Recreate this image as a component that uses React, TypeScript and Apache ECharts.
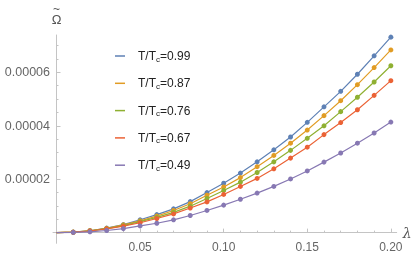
import React, { useEffect, useRef } from "react";
import * as echarts from "echarts";

// λ values (first point at origin drawn without marker)
const lambdas = [0, 0.01, 0.02, 0.03, 0.04, 0.05, 0.06, 0.07, 0.08, 0.09, 0.1, 0.11, 0.12, 0.13, 0.14, 0.15, 0.16, 0.17, 0.18, 0.19, 0.2];

// Ω̃ values in units of 1e-5
const SCALE = 1e-5;
const seriesNames = ["0.99", "0.87", "0.76", "0.67", "0.49"];
const omega099 = [0, 0.02, 0.07, 0.17, 0.3, 0.48, 0.675, 0.89, 1.16, 1.5, 1.85, 2.23, 2.65, 3.1, 3.58, 4.13, 4.71, 5.29, 5.93, 6.62, 7.32];
const omega087 = [0, 0.02, 0.07, 0.16, 0.29, 0.44, 0.62, 0.83, 1.08, 1.4, 1.71, 2.06, 2.47, 2.89, 3.35, 3.84, 4.38, 4.94, 5.54, 6.18, 6.84];
const omega076 = [0, 0.015, 0.065, 0.15, 0.265, 0.41, 0.57, 0.76, 0.99, 1.28, 1.58, 1.89, 2.25, 2.65, 3.08, 3.53, 4.0, 4.53, 5.07, 5.64, 6.25];
const omega067 = [0, 0.015, 0.06, 0.14, 0.24, 0.37, 0.53, 0.7, 0.92, 1.15, 1.43, 1.73, 2.03, 2.39, 2.79, 3.2, 3.67, 4.12, 4.6, 5.14, 5.69];
const omega049 = [0, 0.01, 0.03, 0.08, 0.15, 0.25, 0.35, 0.48, 0.64, 0.83, 1.03, 1.25, 1.48, 1.73, 2.01, 2.31, 2.64, 2.98, 3.35, 3.73, 4.14];
const allValues = [omega099, omega087, omega076, omega067, omega049];

const xTickLabels = [0.05, 0.1, 0.15, 0.2];
const xMinorTicks = [0.01, 0.02, 0.03, 0.04, 0.06, 0.07, 0.08, 0.09, 0.11, 0.12, 0.13, 0.14, 0.16, 0.17, 0.18, 0.19];
const yTickLabels = [0.00002, 0.00004, 0.00006];
const yMinorTicks = [0.000005, 0.00001, 0.000015, 0.000025, 0.00003, 0.000035, 0.000045, 0.00005, 0.000055, 0.000065, 0.00007];

const colors = ["#5E81B5", "#E19C24", "#8FB032", "#EB6235", "#8778B3"];

const X_MIN = -0.0021;
const X_MAX = 0.2035;
const Y_MIN = -0.000004;
const Y_MAX = 0.000074;

export default function App() {
  const ref = useRef<HTMLDivElement>(null);
  useEffect(() => {
    if (!ref.current) return;
    const chart = echarts.init(ref.current, null, { renderer: "svg" });
    const axisColor = "#c4c4c4";
    const labelColor = "#666666";
    const font = "'Liberation Sans', Arial, sans-serif";

    const series: any[] = allValues.map((vals, si) => ({
      type: "line",
      name: seriesNames[si],
      xAxisIndex: 0,
      yAxisIndex: 0,
      data: lambdas.map((l, i) =>
        i === 0 ? { value: [l, vals[i] * SCALE], symbol: "none" } : [l, vals[i] * SCALE]
      ),
      symbol: "circle",
      symbolSize: 5,
      showSymbol: true,
      lineStyle: { width: 1.2, color: colors[si] },
      itemStyle: { color: colors[si] },
      color: colors[si],
      z: 2 + si,
    }));

    chart.setOption({
      animation: false,
      textStyle: { fontFamily: font },
      grid: {
        left: 53,
        right: 18.3,
        top: 35,
        bottom: 9.7,
        containLabel: false,
        outerBoundsMode: "none",
      },
      legend: {
        orient: "vertical",
        left: 115,
        top: 50,
        padding: 0,
        itemGap: 14.3,
        itemWidth: 10,
        itemHeight: 1.5,
        icon: "rect",
        data: seriesNames,
        formatter: (name: string) => `{s|}{a|T/T}{b|c}{a|=${name}}`,
        textStyle: {
          rich: {
            s: { width: 8 },
            a: { fontSize: 12, lineHeight: 14, color: "#222", fontFamily: font },
            b: { fontSize: 8, lineHeight: 8, verticalAlign: "bottom", color: "#222", fontFamily: font },
          },
        },
      },
      xAxis: [
        {
          type: "value",
          min: X_MIN,
          max: X_MAX,
          name: "λ",
          nameLocation: "end",
          nameGap: 6,
          nameTextStyle: { fontSize: 14, fontStyle: "italic", color: "#555", fontFamily: "'DejaVu Serif', serif", verticalAlign: "middle", padding: [4, 0, 0, 0] },
          axisLine: { show: true, onZero: true, onZeroAxisIndex: 0, lineStyle: { color: axisColor, width: 1 } },
          axisTick: { show: true, inside: true, length: 4, customValues: xTickLabels, lineStyle: { color: axisColor } },
          axisLabel: {
            show: true,
            customValues: xTickLabels,
            formatter: (v: number) => v.toFixed(2),
            color: labelColor,
            fontSize: 12,
            margin: -2,
          },
          splitLine: { show: false },
        },
        {
          type: "value",
          min: X_MIN,
          max: X_MAX,
          position: "bottom",
          axisLine: { show: false, onZero: true, onZeroAxisIndex: 0 },
          axisTick: { show: true, inside: true, length: 2, customValues: xMinorTicks, lineStyle: { color: axisColor } },
          axisLabel: { show: false },
          splitLine: { show: false },
        },
      ],
      yAxis: [
        {
          type: "value",
          min: Y_MIN,
          max: Y_MAX,
          name: "{t|~}\n{o|Ω}",
          nameLocation: "end",
          nameGap: 10,
          nameTextStyle: {
            align: "center",
            rich: {
              t: { fontSize: 12, lineHeight: 8, color: "#555", fontFamily: font, align: "center" },
              o: { fontSize: 13, lineHeight: 12, color: "#555", fontFamily: font, align: "center" },
            },
          },
          axisLine: { show: true, onZero: true, onZeroAxisIndex: 0, lineStyle: { color: axisColor, width: 1 } },
          axisTick: { show: true, inside: true, length: 4, customValues: yTickLabels, lineStyle: { color: axisColor } },
          axisLabel: {
            show: true,
            customValues: yTickLabels,
            formatter: (v: number) => v.toFixed(5),
            color: labelColor,
            fontSize: 12.5,
            margin: 3,
          },
          splitLine: { show: false },
        },
        {
          type: "value",
          min: Y_MIN,
          max: Y_MAX,
          position: "left",
          axisLine: { show: false, onZero: true, onZeroAxisIndex: 0 },
          axisTick: { show: true, inside: true, length: 2, customValues: yMinorTicks, lineStyle: { color: axisColor } },
          axisLabel: { show: false },
          splitLine: { show: false },
        },
      ],
      series,
    });
    return () => chart.dispose();
  }, []);
  return <div ref={ref} style={{ position: "fixed", left: 0, top: 0, width: 415, height: 253 }} />;
}
